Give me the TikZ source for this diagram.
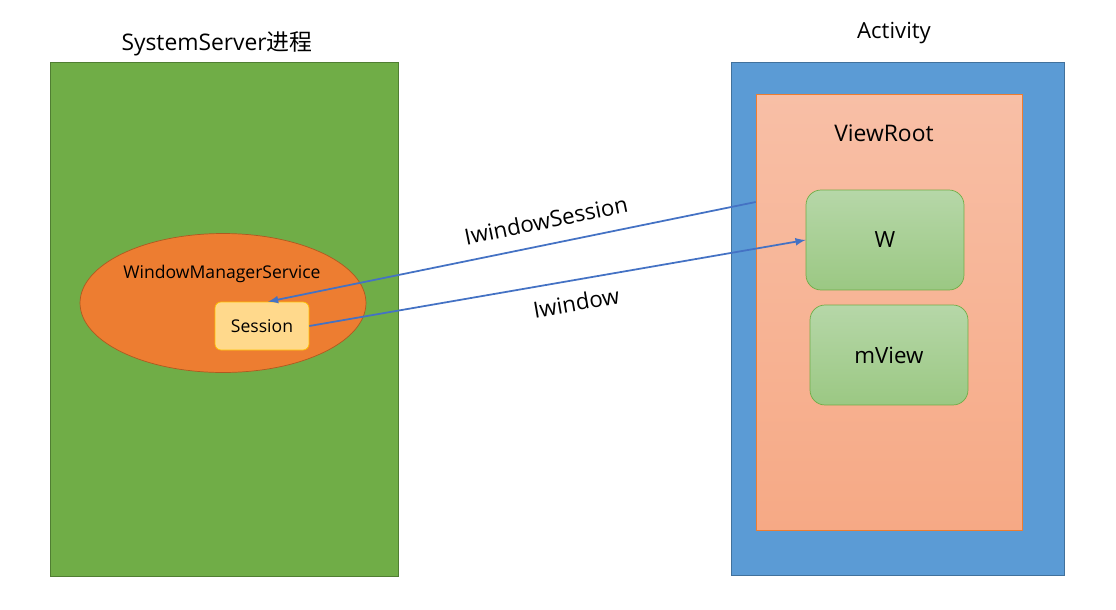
\documentclass[tikz,border=0pt]{standalone}
\usepackage{fontspec}
\setmainfont{Open Sans}
\newfontfamily\cjk{Noto Sans CJK SC}
\usetikzlibrary{arrows,shapes}
\definecolor{procgreen}{HTML}{70AD47}
\definecolor{procgreenline}{HTML}{507E32}
\definecolor{wmsorange}{HTML}{ED7D31}
\definecolor{wmsline}{HTML}{AE5A21}
\definecolor{sessfill}{HTML}{FFD98C}
\definecolor{sessline}{HTML}{FFC000}
\definecolor{actblue}{HTML}{5B9BD5}
\definecolor{actline}{HTML}{41719C}
\definecolor{vrtop}{HTML}{F8BFA6}
\definecolor{vrbottom}{HTML}{F6A985}
\definecolor{wtop}{HTML}{B6D7A8}
\definecolor{wbottom}{HTML}{9BC883}
\definecolor{ipcblue}{HTML}{4472C4}

\tikzset{
  box/.style={draw,rectangle,inner sep=0pt},
  viewbox/.style={box,draw=procgreen,rounded corners=15*0.02cm,
    top color=wtop,bottom color=wbottom,
    minimum width=3.16cm,minimum height=2cm,font=\fontsize{12.7}{15}\selectfont},
  ipc/.style={draw=ipcblue,line width=1pt,-latex},
  ipclabel/.style={sloped,font=\fontsize{12.7}{15}\selectfont}
}

\begin{document}
\begin{tikzpicture}[x=0.02cm,y=-0.02cm]
\useasboundingbox (0,0) rectangle (1116,609);

%SystemServer
\node[box,fill=procgreen,draw=procgreenline,minimum width=6.96cm,
      minimum height=10.28cm] (server) at (224,319) {};
\node[font=\fontsize{13}{16}\selectfont] (servertitle) at (217,44)
      {SystemServer{\cjk 进程}};
\node[draw=wmsline,fill=wmsorange,ellipse,minimum width=5.72cm,
      minimum height=2.78cm] (wms) at (223,303) {};
\node[font=\fontsize{10}{12}\selectfont] (wmstitle) at (222,274)
      {WindowManagerService};
\node[box,fill=sessfill,draw=sessline,rounded corners=0.12cm,
      minimum width=1.88cm,minimum height=0.96cm,
      font=\fontsize{10}{12}\selectfont] (session) at (262,326) {Session};

%Activity
\node[box,fill=actblue,draw=actline,minimum width=6.66cm,
      minimum height=10.26cm] (activity) at (897.5,318.5) {};
\node[font=\fontsize{12.6}{15}\selectfont] (acttitle) at (894,33) {Activity};
\node[box,draw=wmsorange,top color=vrtop,bottom color=vrbottom,
      minimum width=5.32cm,minimum height=8.72cm] (viewroot) at (889,312) {};
\node[font=\fontsize{13}{15}\selectfont] (vrtitle) at (884,133) {ViewRoot};
\node[viewbox] (w) at (885,240) {W};
\node[viewbox] (mview) at (889,355) {mView};

%binder
\coordinate (vrleft) at (viewroot.west |- 0,202);
\draw[ipc] (vrleft) -- ([xshift=6*0.02cm]session.north)
      node[ipclabel,pos=0.42,above=5pt] {IwindowSession};
\draw[ipc] (session.east) -- (w.west)
      node[ipclabel,pos=0.53,below=4pt] {Iwindow};
\end{tikzpicture}
\end{document}
